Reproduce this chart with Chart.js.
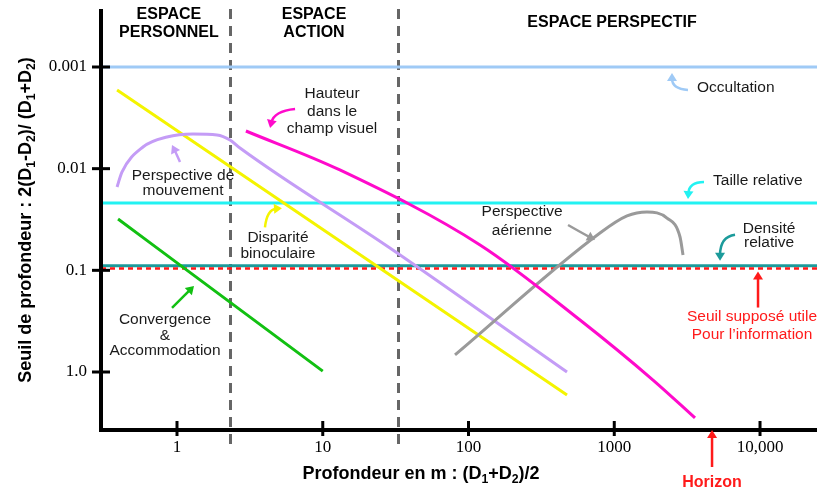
<!DOCTYPE html>
<html lang="fr">
<head>
<meta charset="utf-8">
<title>Seuils de profondeur</title>
<script src="https://cdn.jsdelivr.net/npm/chart.js@4.4.1/dist/chart.umd.min.js"></script>
<style>
  html, body { margin: 0; padding: 0; background: #fff; }
  #wrap { width: 817px; height: 493px; }
</style>
</head>
<body>
<div id="wrap"><canvas id="depthChart" width="817" height="493"></canvas></div>
<script>
// Axes
const xRange = [0.301, 24600];
const yRange = [0.000275, 3.555];
const xTicks = [1, 10, 100, 1000, 10000];
const xTickLabels = ['1', '10', '100', '1000', '10,000'];
const yTicks = [0.001, 0.01, 0.1, 1];
const yTickLabels = ['0.001', '0.01', '0.1', '1.0'];
const zoneBounds = [2.3, 33];

// Constant thresholds
const occultationLevel = 0.001;
const tailleLevel = 0.0218;
const densiteLevel = 0.09;
const seuilLevel = 0.096;

// Curves
const convX = [0.394, 10];
const convY = [0.0313, 0.98];
const dispX = [0.388, 474];
const dispY = [0.00168, 1.68];
const mouvX = [0.388, 0.419, 0.584, 0.854, 1.288, 1.881, 2.31, 2.705, 28.9, 474];
const mouvY = [0.01515, 0.0108, 0.00612, 0.00488, 0.00456, 0.00466, 0.00522, 0.00626, 0.0603, 1.0];
const hautX = [2.97, 13.1, 120, 582, 1845, 3581];
const hautY = [0.00426, 0.0103, 0.0563, 0.308, 1.20, 2.83];
const aerX = [80.8, 798, 1223, 1677, 2301, 2826, 2963];
const aerY = [0.680, 0.0430, 0.0292, 0.0267, 0.0306, 0.0470, 0.0707];

const C = {
    occult: '#9fcaf6',
    taille: '#22f2f2',
    densite: '#1c9b9b',
    seuil: '#ff1a1a',
    disp: '#f4f400',
    mouv: '#c49cf6',
    haut: '#ff0acb',
    conv: '#12c012',
    aer: '#9a9a9a',
    text: '#1a1a1a'
};

const SANS = '"Liberation Sans", Arial, sans-serif';

function pts(xs, ys) {
    return xs.map((x, i) => ({ x: x, y: ys[i] }));
}
function flat(level) {
    return pts(xRange, [level, level]);
}
function curve(data, color) {
    return {
        data: data, borderColor: color, borderWidth: 3, showLine: true,
        pointRadius: 0, fill: false, cubicInterpolationMode: 'monotone'
    };
}

// Annotations: anchored at a data point, offsets in pixels
const notes = [
    { x: 4.35, y: 0.00398, color: C.haut, tail: [25, -19], bend: [4, -17], tip: [0, 0],
      lines: ['Hauteur', 'dans le', 'champ visuel'], at: [62, -34], lh: 17.5 },
    { x: 0.924, y: 0.00585, color: C.mouv, tail: [8, 17], bend: [4, 8], tip: [0, 0],
      lines: ['Perspective de', 'mouvement'], at: [11, 31], lh: 15 },
    { x: 5.25, y: 0.02455, color: C.disp, tail: [-17, 19], bend: [-15, 1], tip: [0, 0],
      lines: ['Disparité', 'binoculaire'], at: [-4, 29], lh: 16 },
    { x: 1.308, y: 0.1425, color: C.conv, tail: [-22, 22], bend: [-11, 11], tip: [0, 0],
      lines: ['Convergence', '&', 'Accommodation'], at: [-29, 34], lh: 15.5 },
    { x: 2489, y: occultationLevel, color: C.occult, tail: [16, 23], bend: [0, 22], tip: [0, 6],
      lines: ['Occultation'], at: [25, 21], align: 'left' },
    { x: 3206, y: tailleLevel, color: C.taille, tail: [16, -21], bend: [1, -21], tip: [0, -4],
      lines: ['Taille relative'], at: [25, -22], align: 'left' },
    { x: 738, y: 0.0503, color: C.aer, tail: [-27, -15], bend: [-13, -7], tip: [0, 0],
      lines: ['Perspective', 'aérienne'], at: [-73, -28], lh: 19 },
    { x: 5317, y: densiteLevel, color: C.densite, tail: [15, -31], bend: [0, -29], tip: [0, -5],
      lines: ['Densité', 'relative'], at: [49, -37], lh: 14.5 },
    { x: 9690, y: seuilLevel, color: C.seuil, tail: [0, 39], bend: [0, 20], tip: [0, 3],
      lines: ['Seuil supposé utile', 'Pour l\u2019information'], at: [-6, 48], lh: 18, textColor: C.seuil },
    { x: 4686, y: yRange[1], color: C.seuil, tail: [0, 39], bend: [0, 20], tip: [0, 2],
      lines: ['Horizon'], at: [0, 55], bold: true, textColor: C.seuil }
];

const zoneHeads = [
    { x: 0.88, lines: ['ESPACE', 'PERSONNEL'], y: [15, 33] },
    { x: 8.71, lines: ['ESPACE', 'ACTION'], y: [15, 33] },
    { x: 966, lines: ['ESPACE PERSPECTIF'], y: [23] }
];

function drawRich(ctx, parts, cx, baseY, size) {
    let w = 0;
    parts.forEach(p => {
        ctx.font = 'bold ' + (p[1] ? size * 0.68 : size) + 'px ' + SANS;
        w += ctx.measureText(p[0]).width;
    });
    let x = cx - w / 2;
    ctx.textAlign = 'left';
    ctx.textBaseline = 'alphabetic';
    parts.forEach(p => {
        ctx.font = 'bold ' + (p[1] ? size * 0.68 : size) + 'px ' + SANS;
        ctx.fillText(p[0], x, baseY + (p[1] ? 4 : 0));
        x += ctx.measureText(p[0]).width;
    });
}

const decor = {
    id: 'decor',
    beforeDatasetsDraw(chart) {
        const ctx = chart.ctx, xs = chart.scales.x;
        ctx.save();
        ctx.strokeStyle = '#666';
        ctx.lineWidth = 3;
        ctx.setLineDash([10, 7]);
        zoneBounds.forEach(v => {
            const px = Math.round(xs.getPixelForValue(v)) + 0.5;
            ctx.beginPath();
            ctx.moveTo(px, 9);
            ctx.lineTo(px, 444);
            ctx.stroke();
        });
        ctx.restore();
    },
    afterDraw(chart) {
        const ctx = chart.ctx, xs = chart.scales.x, ys = chart.scales.y;
        const a = chart.chartArea;
        ctx.save();

        // axes
        ctx.strokeStyle = '#000';
        ctx.lineWidth = 4;
        ctx.beginPath();
        ctx.moveTo(a.left, 9);
        ctx.lineTo(a.left, a.bottom + 2);
        ctx.lineTo(a.right, a.bottom + 2);
        ctx.stroke();
        ctx.lineWidth = 3;
        yTicks.forEach(v => {
            const py = ys.getPixelForValue(v);
            ctx.beginPath();
            ctx.moveTo(a.left - 9, py);
            ctx.lineTo(a.left + 9, py);
            ctx.stroke();
        });
        xTicks.forEach(v => {
            const px = xs.getPixelForValue(v);
            ctx.beginPath();
            ctx.moveTo(px, a.bottom - 7);
            ctx.lineTo(px, a.bottom + 8);
            ctx.stroke();
        });

        // zone headers
        ctx.fillStyle = '#000';
        ctx.font = 'bold 16px ' + SANS;
        ctx.textAlign = 'center';
        ctx.textBaseline = 'middle';
        zoneHeads.forEach(z => {
            const px = xs.getPixelForValue(z.x);
            z.lines.forEach((t, i) => ctx.fillText(t, px, z.y[i]));
        });

        // axis titles
        ctx.fillStyle = '#000';
        drawRich(ctx, [['Profondeur en m : (D', 0], ['1', 1], ['+D', 0], ['2', 1], [')/2', 0]], 421, 479, 18);
        ctx.save();
        ctx.translate(24, 220);
        ctx.rotate(-Math.PI / 2);
        drawRich(ctx, [['Seuil de profondeur : 2(D', 0], ['1', 1], ['-D', 0], ['2', 1],
            [')/ (D', 0], ['1', 1], ['+D', 0], ['2', 1], [')', 0]], 0, 6.5, 18);
        ctx.restore();

        // annotations
        notes.forEach(n => {
            const ax = xs.getPixelForValue(n.x), ay = ys.getPixelForValue(n.y);
            const tx = ax + n.tail[0], ty = ay + n.tail[1];
            const bx = ax + n.bend[0], by = ay + n.bend[1];
            const hx = ax + n.tip[0], hy = ay + n.tip[1];
            const ang = Math.atan2(hy - by, hx - bx);
            const back = 8;
            ctx.strokeStyle = n.color;
            ctx.fillStyle = n.color;
            ctx.lineWidth = 2.5;
            ctx.setLineDash([]);
            ctx.beginPath();
            ctx.moveTo(tx, ty);
            ctx.quadraticCurveTo(bx, by, hx - Math.cos(ang) * back * 0.7, hy - Math.sin(ang) * back * 0.7);
            ctx.stroke();
            ctx.beginPath();
            ctx.moveTo(hx, hy);
            ctx.lineTo(hx - Math.cos(ang) * back - Math.sin(ang) * 5, hy - Math.sin(ang) * back + Math.cos(ang) * 5);
            ctx.lineTo(hx - Math.cos(ang) * back + Math.sin(ang) * 5, hy - Math.sin(ang) * back - Math.cos(ang) * 5);
            ctx.closePath();
            ctx.fill();

            ctx.fillStyle = n.textColor || C.text;
            ctx.font = (n.bold ? 'bold 16px ' : '15.5px ') + SANS;
            ctx.textAlign = n.align || 'center';
            ctx.textBaseline = 'middle';
            n.lines.forEach((t, i) => ctx.fillText(t, ax + n.at[0], ay + n.at[1] + i * (n.lh || 16)));
        });
        ctx.restore();
    }
};

new Chart(document.getElementById('depthChart'), {
    type: 'scatter',
    data: {
        datasets: [
            curve(pts(hautX, hautY), C.haut),
            curve(pts(aerX, aerY), C.aer),
            curve(pts(convX, convY), C.conv),
            curve(pts(mouvX, mouvY), C.mouv),
            curve(pts(dispX, dispY), C.disp),
            Object.assign(curve(flat(seuilLevel), C.seuil), { borderWidth: 2.5, borderDash: [5, 4] }),
            curve(flat(densiteLevel), C.densite),
            curve(flat(tailleLevel), C.taille),
            curve(flat(occultationLevel), C.occult)
        ]
    },
    options: {
        responsive: false,
        animation: false,
        layout: { padding: { top: 10, left: 0, right: 0, bottom: 0 } },
        plugins: { legend: { display: false }, tooltip: { enabled: false } },
        scales: {
            x: {
                type: 'logarithmic',
                min: xRange[0],
                max: xRange[1],
                bounds: 'data',
                grid: { display: false, drawTicks: false },
                border: { display: false },
                afterBuildTicks: s => { s.ticks = xTicks.map(v => ({ value: v })); },
                afterFit: s => { s.height = 65; s.paddingLeft = 0; s.paddingRight = 0; },
                ticks: {
                    autoSkip: false, maxRotation: 0, padding: 9, color: '#000',
                    font: { family: '"Liberation Serif", "Times New Roman", serif', size: 17 },
                    callback: (v, i) => xTickLabels[i]
                }
            },
            y: {
                type: 'logarithmic',
                reverse: true,
                min: yRange[0],
                max: yRange[1],
                bounds: 'data',
                grid: { display: false, drawTicks: false },
                border: { display: false },
                afterBuildTicks: s => { s.ticks = yTicks.map(v => ({ value: v })); },
                afterFit: s => { s.width = 101; s.paddingTop = 0; s.paddingBottom = 0; },
                ticks: {
                    autoSkip: false, padding: 14, color: '#000',
                    font: { family: '"Liberation Serif", "Times New Roman", serif', size: 17 },
                    callback: (v, i) => yTickLabels[i]
                }
            }
        }
    },
    plugins: [decor]
});
</script>
</body>
</html>
